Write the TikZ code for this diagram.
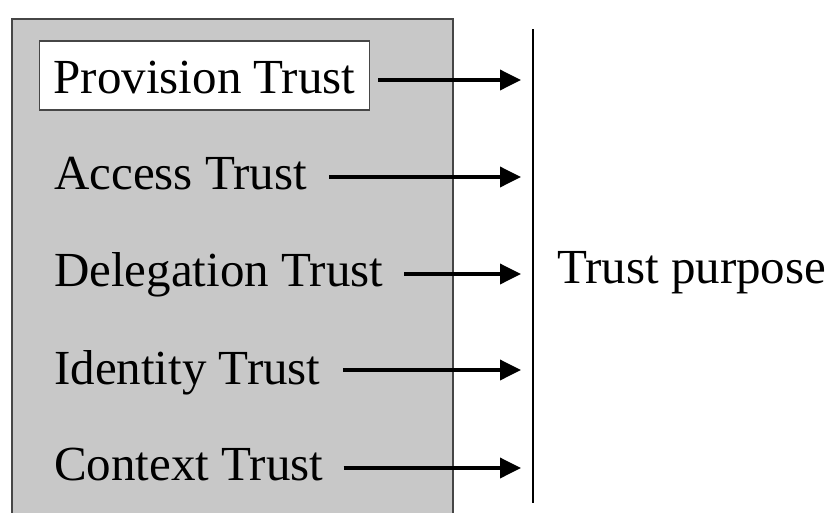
\documentclass[tikz,border=0pt]{standalone}
\usepackage{fontspec}
\setmainfont{Liberation Serif}
\usetikzlibrary{arrows.meta,calc}
\definecolor{panelgray}{RGB}{200,200,200}
\definecolor{edgegray}{RGB}{70,70,70}
\begin{document}
\begin{tikzpicture}[x=1pt,y=-1pt,
  lbl/.style={inner sep=0pt,anchor=base west,font=\fontsize{49}{58}\selectfont},
  boxlbl/.style={lbl,draw=edgegray,line width=1.3pt,fill=white,inner xsep=14pt,inner ysep=16pt,text height=36pt,text depth=1pt},
  arr/.style={line width=3.6pt,-{Triangle[length=21pt,width=20pt]}}]
\useasboundingbox (0,0) rectangle (828,512);
% panel
\fill[panelgray] (12,19) rectangle (453,520);
\draw[edgegray,line width=1.3pt] (12,520) -- (12,19) -- (453,19) -- (453,520);
% vertical line
\coordinate (ltop) at (533,29);
\coordinate (lbot) at (533,503);
\coordinate (tipx) at (521,29);
\draw[line width=1.3pt] (ltop) -- (lbot);
% labels
\node[boxlbl] (prov) at (39,93) {Provision Trust};
\node[lbl] (acc) at (54,189) {Access Trust};
\node[lbl] (del) at (54,286) {Delegation Trust};
\node[lbl] (ide) at (54,384) {Identity Trust};
\node[lbl] (con) at (54,480) {Context Trust};
\node[lbl] (purp) at (557,283) {Trust purpose};
% arrow starts
\coordinate (s1) at ([shift={(8pt,13pt)}]prov.base east);
\coordinate (s2) at ([shift={(22pt,12pt)}]acc.base east);
\coordinate (s3) at ([shift={(21pt,12pt)}]del.base east);
\coordinate (s4) at ([shift={(22pt,14pt)}]ide.base east);
\coordinate (s5) at ([shift={(20pt,12pt)}]con.base east);
% arrows
\foreach \s in {s1,s2,s3,s4,s5}
  \draw[arr] (\s) -- (\s -| tipx);
\end{tikzpicture}
\end{document}
